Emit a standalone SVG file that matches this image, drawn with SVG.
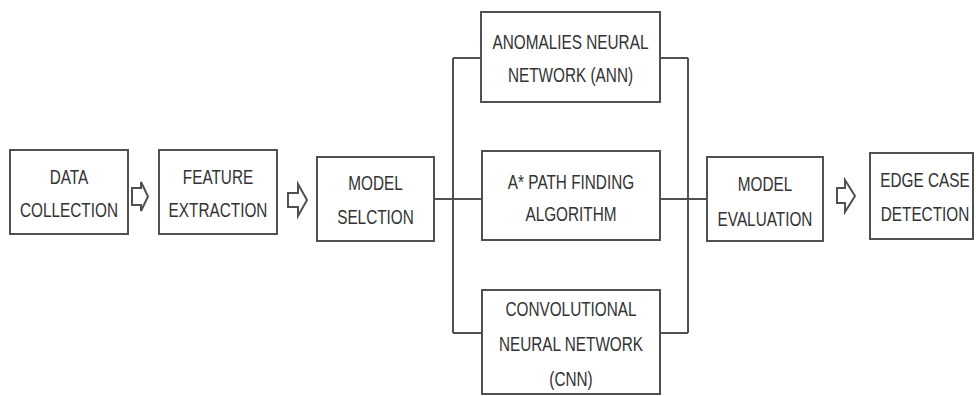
<svg xmlns="http://www.w3.org/2000/svg" width="976" height="396" viewBox="0 0 976 396">
<style>
.box{fill:#fff;stroke:#505050;stroke-width:2}
.ln{fill:none;stroke:#505050;stroke-width:2}
.ar{fill:#fff;stroke:#505050;stroke-width:2;stroke-linejoin:miter}
text{font-family:"Liberation Sans",Arial,sans-serif;font-size:21px;fill:#333;text-anchor:middle}
</style>
<rect width="976" height="396" fill="#fff"/>
<g id="connectors">
<path class="ln" d="M434 199H482M453 58V333M453 58H481M453 333H482"/>
<path class="ln" d="M660 58H688M660 199H707M660 333H688M688 58V333"/>
<polygon class="ar" points="132,188 141,188 141,182 148,196.5 141,211 141,205 132,205"/>
<polygon class="ar" points="288,193 298,193 298,184 307,200 298,216 298,207 288,207"/>
<polygon class="ar" points="837,188 845,188 845,180 855,196 845,212 845,203 837,203"/>
</g>
<g id="data-collection">
<rect class="box" x="10" y="150" width="118" height="84"/>
<text transform="translate(69 184) scale(0.73 1)">DATA</text>
<text transform="translate(69 217) scale(0.73 1)">COLLECTION</text>
</g>
<g id="feature-extraction">
<rect class="box" x="159" y="150" width="118" height="84"/>
<text transform="translate(218 184) scale(0.73 1)">FEATURE</text>
<text transform="translate(218 217) scale(0.73 1)">EXTRACTION</text>
</g>
<g id="model-selection">
<rect class="box" x="317" y="157" width="117" height="84"/>
<text transform="translate(375.5 190) scale(0.73 1)">MODEL</text>
<text transform="translate(375.5 224) scale(0.73 1)">SELCTION</text>
</g>
<g id="ann">
<rect class="box" x="481" y="12" width="179" height="90"/>
<text transform="translate(570.5 49) scale(0.73 1)">ANOMALIES NEURAL</text>
<text transform="translate(570.5 82) scale(0.73 1)">NETWORK (ANN)</text>
</g>
<g id="astar">
<rect class="box" x="482" y="151" width="178" height="89"/>
<text transform="translate(571 189) scale(0.73 1)">A* PATH FINDING</text>
<text transform="translate(571 221) scale(0.73 1)">ALGORITHM</text>
</g>
<g id="cnn">
<rect class="box" x="482" y="290" width="178" height="104"/>
<text transform="translate(571 316) scale(0.73 1)">CONVOLUTIONAL</text>
<text transform="translate(571 351) scale(0.73 1)">NEURAL NETWORK</text>
<text transform="translate(571 386) scale(0.73 1)">(CNN)</text>
</g>
<g id="model-evaluation">
<rect class="box" x="707" y="157" width="116" height="84"/>
<text transform="translate(765 191) scale(0.73 1)">MODEL</text>
<text transform="translate(765 226) scale(0.73 1)">EVALUATION</text>
</g>
<g id="edge-case-detection">
<rect class="box" x="870" y="153" width="103" height="86"/>
<text transform="translate(925 187) scale(0.73 1)">EDGE CASE</text>
<text transform="translate(925 221) scale(0.73 1)">DETECTION</text>
</g>
</svg>
